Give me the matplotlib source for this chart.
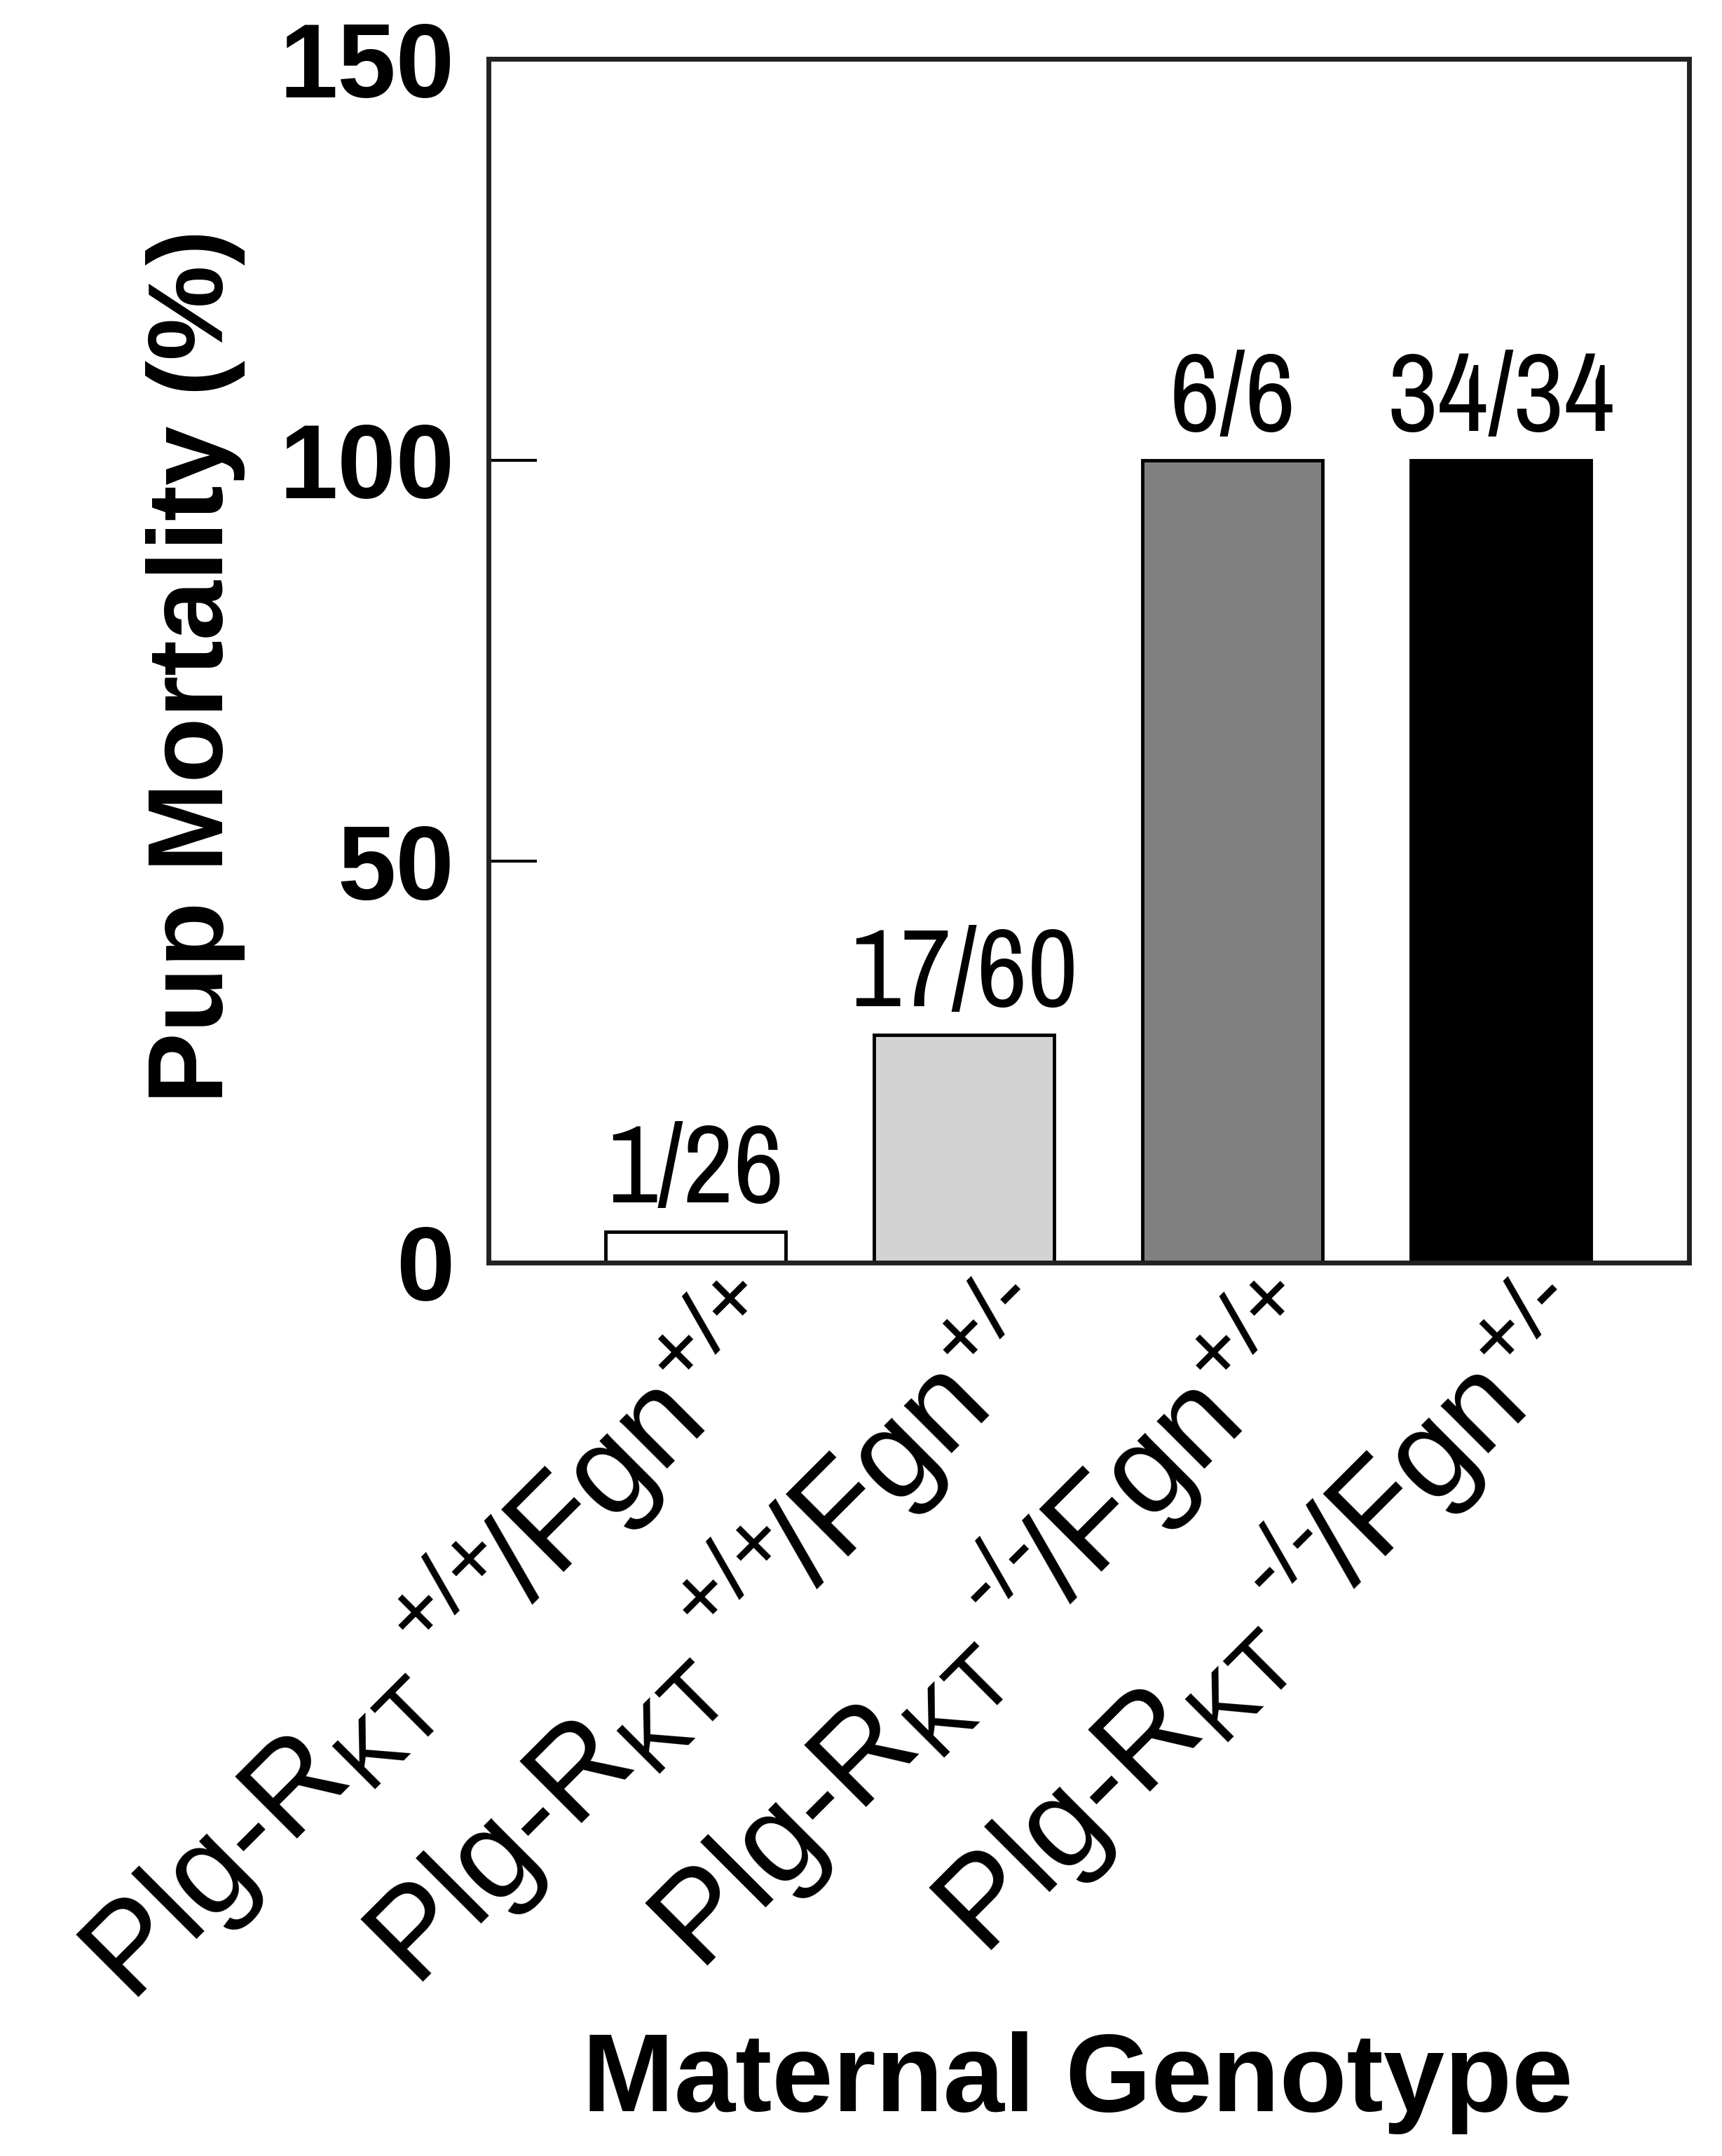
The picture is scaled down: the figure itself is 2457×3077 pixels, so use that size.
import matplotlib
matplotlib.use("Agg")
import matplotlib.pyplot as plt
import matplotlib.transforms as mtransforms

# data
genotypes = [
    r"Plg-R$_{\text{KT}}\,{}^{\text{+/+}}\!$/Fgn$^{\text{+/+}}$",
    r"Plg-R$_{\text{KT}}\,{}^{\text{+/+}}\!$/Fgn$^{\text{+/-}}$",
    r"Plg-R$_{\text{KT}}\,{}^{\text{-/-}}\!$/Fgn$^{\text{+/+}}$",
    r"Plg-R$_{\text{KT}}\,{}^{\text{-/-}}\!$/Fgn$^{\text{+/-}}$",
]
mortality = [100 * 1 / 26, 100 * 17 / 60, 100.0, 100.0]
counts = ["1/26", "17/60", "6/6", "34/34"]
bar_colors = ["white", "#d3d3d3", "#808080", "black"]

plt.rcParams["font.family"] = ["Liberation Sans", "DejaVu Sans"]
plt.rcParams["mathtext.fontset"] = "custom"
plt.rcParams["mathtext.rm"] = "Liberation Sans"
plt.rcParams["mathtext.bf"] = "Liberation Sans:bold"
plt.rcParams["mathtext.it"] = "Liberation Sans:italic"

narrow = ["Archivo Narrow", "Liberation Sans"]

fig = plt.figure(figsize=(24.57, 30.77), dpi=100)
ax = fig.add_axes([0.2837, 0.4144, 0.6972, 0.5583])

x = range(len(mortality))
ax.bar(x, mortality, width=0.67, color=bar_colors, edgecolor="black", linewidth=3.5)

for xi, v, c in zip(x, mortality, counts):
    ax.annotate(c, (xi, v), xytext=(0, 30), textcoords="offset points",
                ha="center", va="baseline", fontsize=114, family=narrow)

ax.set_xlim(-0.77, 3.70)
ax.set_ylim(0, 150)
ax.set_yticks([0, 50, 100, 150])
ax.tick_params(axis="y", direction="in", length=50, width=3, pad=35,
               labelsize=108)
for lab in ax.get_yticklabels():
    lab.set_fontweight("bold")
ax.tick_params(axis="x", length=0)
for sp in ax.spines.values():
    sp.set_linewidth(5)
    sp.set_color("#222222")

ax.set_xticks(list(x))
ax.set_xticklabels(genotypes, rotation=45, ha="right", va="top",
                   rotation_mode="anchor", fontsize=130)
offset = mtransforms.ScaledTranslation(26 / 72, 10 / 72, fig.dpi_scale_trans)
for lab in ax.get_xticklabels():
    lab.set_transform(lab.get_transform() + offset)

ax.set_ylabel("Pup Mortality (%)", fontsize=110, fontweight="bold")
ax.yaxis.set_label_coords(-0.2026, 0.495)

fig.text(0.626, 0.0208, "Maternal Genotype", ha="center", va="baseline",
         fontsize=113, fontweight="bold")

fig.savefig("out.png", dpi=100, facecolor="white")
